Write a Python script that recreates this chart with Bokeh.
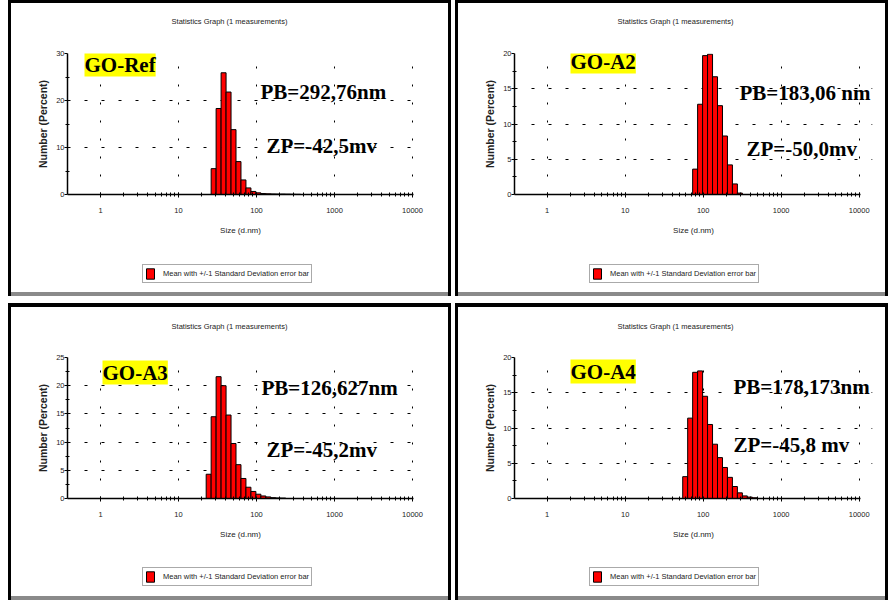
import math
from bokeh.plotting import figure
from bokeh.layouts import column, row
from bokeh.models import (Range1d, FixedTicker, BasicTickFormatter, Label, Legend,
                          LegendItem, ColumnDataSource)
from bokeh.embed import file_html
from bokeh.resources import INLINE

# ---------------- data ----------------
panel_names = ["GO-Ref", "GO-A2", "GO-A3", "GO-A4"]
pb_texts = ["PB=292,76nm", "PB=183,06 nm", "PB=126,627nm", "PB=178,173nm"]
zp_texts = ["ZP=-42,5mv", "ZP=-50,0mv", "ZP=-45,2mv", "ZP=-45,8 mv"]

ref_sizes = [28.21, 32.67, 37.84, 43.82, 50.75, 58.77, 68.06, 78.82, 91.28, 105.7,
             122.4, 141.8, 164.2, 190.1, 220.2, 255.0, 295.3, 342.0]
ref_pct = [5.5, 18.3, 25.9, 21.8, 13.8, 7.0, 3.1, 1.4, 0.65, 0.35,
           0.2, 0.15, 0.12, 0.1, 0.1, 0.08, 0.06, 0.04]

a2_sizes = [78.82, 91.28, 105.7, 122.4, 141.8, 164.2, 190.1, 220.2, 255.0, 295.3]
a2_pct = [3.6, 12.8, 19.7, 19.9, 16.7, 12.6, 8.3, 4.2, 1.5, 0.2]

a3_sizes = [24.36, 28.21, 32.67, 37.84, 43.82, 50.75, 58.77, 68.06, 78.82, 91.28,
            105.7, 122.4, 141.8, 164.2, 190.1, 220.2]
a3_pct = [4.3, 14.5, 21.6, 20.0, 14.8, 9.75, 6.0, 3.55, 2.0, 1.25,
          0.76, 0.45, 0.28, 0.15, 0.1, 0.08]

a4_sizes = [58.77, 68.06, 78.82, 91.28, 105.7, 122.4, 141.8, 164.2, 190.1, 220.2,
            255.0, 295.3, 342.0, 396.1, 458.7]
a4_pct = [3.1, 11.4, 17.9, 18.1, 14.5, 10.5, 7.7, 5.8, 4.4, 3.0,
          1.7, 0.8, 0.37, 0.2, 0.1]

y_max = [30, 20, 25, 20]
y_major = [[0, 10, 20, 30], [0, 5, 10, 15, 20], [0, 5, 10, 15, 20, 25], [0, 5, 10, 15, 20]]
y_minor = [[5, 15, 25], [2.5, 7.5, 12.5, 17.5], [2.5, 7.5, 12.5, 17.5, 22.5], [2.5, 7.5, 12.5, 17.5]]

x_major = [1, 10, 100, 1000, 10000]
x_minor = [m * d for d in [1, 10, 100, 1000] for m in range(2, 10)]
x_axis_end = 10400

title_text = "Statistics Graph (1 measurements)"
x_label = "Size (d.nm)"
y_label = "Number (Percent)"
legend_text = "Mean with +/-1 Standard Deviation error bar"

PX_PER_DECADE = 78.0
GRAY = "#8a8a8a"


def shadow(left=None, top=None, right=None, bottom=None, bottom_color="black"):
    """each side: (white_px, total_px) -> white band then coloured band"""
    whites, colours = [], []
    for side, spec in (("l", left), ("t", top), ("r", right), ("b", bottom)):
        if spec is None:
            continue
        wpx, tpx = spec
        col = bottom_color if side == "b" else "black"
        fmt = {"l": "inset {}px 0 0 0 {}", "t": "inset 0 {}px 0 0 {}",
               "r": "inset -{}px 0 0 0 {}", "b": "inset 0 -{}px 0 0 {}"}[side]
        if wpx:
            whites.append(fmt.format(wpx, "white"))
        colours.append(fmt.format(tpx, col))
    return ", ".join(whites + colours)


def blank_strip(w, h, css):
    q = figure(width=w, height=h, x_range=Range1d(0, 1), y_range=Range1d(0, 1),
               x_axis_location=None, y_axis_location=None, toolbar_location=None,
               output_backend="svg", min_border=0)
    q.grid.visible = False
    q.outline_line_color = None
    q.background_fill_alpha = 0
    q.border_fill_alpha = 0
    q.styles = {"box-shadow": css}
    return q


def make_title_strip(L):
    q = blank_strip(L["w"], L["th"], L["tshadow"])
    q.add_layout(Label(x=L["title"][0], y=L["title"][1], x_units="screen", y_units="screen",
                       text=title_text, text_align="center", text_baseline="middle",
                       text_font="Liberation Sans", text_font_size="7.5px",
                       text_color="#222222"))
    return q


def make_chart(sizes, pct, ymax, ymaj, ymin, name, pb, zp, L):
    frame_w = L["w"] - L["bl"] - L["br"]
    x_start = 10 ** (-L["one_px"] / PX_PER_DECADE)
    x_end = 10 ** (math.log10(x_start) + frame_w / PX_PER_DECADE)
    p = figure(width=L["w"], height=L["h"], x_axis_type="log",
               x_range=Range1d(x_start, x_end), y_range=Range1d(0, ymax),
               output_backend="svg", toolbar_location=None, title=None,
               min_border_left=L["bl"], min_border_right=L["br"],
               min_border_top=L["bt"], min_border_bottom=L["bb"])
    p.outline_line_color = None
    p.background_fill_alpha = 0
    p.border_fill_alpha = 0
    p.styles = {"box-shadow": L["shadow"]}

    half = math.sqrt(sizes[1] / sizes[0])
    src = ColumnDataSource(dict(left=[s / half for s in sizes],
                                right=[s * half for s in sizes],
                                top=pct))
    p.quad(left="left", right="right", bottom=0, top="top", source=src,
           fill_color="#FF0000", line_color="black", line_width=1)

    xa = p.xaxis[0]
    xa.ticker = FixedTicker(ticks=x_major, minor_ticks=x_minor)
    xa.formatter = BasicTickFormatter(use_scientific=False)
    xa.bounds = (x_start, x_axis_end)
    ya = p.yaxis[0]
    ya.ticker = FixedTicker(ticks=ymaj, minor_ticks=ymin)
    for ax in (xa, ya):
        ax.axis_line_color = "black"
        ax.axis_line_width = 1.5
        ax.major_tick_line_color = "black"
        ax.minor_tick_line_color = "black"
        ax.major_label_text_font = "Liberation Sans"
        ax.major_label_text_font_size = "7.5px"
        ax.major_label_text_color = "#222222"
        ax.axis_label_text_font = "Liberation Sans"
        ax.axis_label_text_font_style = "normal"
        ax.axis_label_text_color = "#222222"
    xa.major_tick_out = 3
    xa.major_tick_in = 2
    xa.minor_tick_out = 2
    xa.minor_tick_in = 2
    xa.major_label_standoff = 10
    xa.axis_label = x_label
    xa.axis_label_text_font_size = "8px"
    xa.axis_label_standoff = 10
    ya.major_tick_out = 3
    ya.major_tick_in = 0
    ya.minor_tick_out = 2
    ya.minor_tick_in = 2
    ya.major_label_standoff = 0
    ya.axis_label = y_label
    ya.axis_label_text_font_size = "10.5px"
    ya.axis_label_text_font_style = "bold"
    ya.axis_label_standoff = 4

    for g, dash in ((p.xgrid[0], "2 16"), (p.ygrid[0], "3 14")):
        g.grid_line_color = "black"
        g.grid_line_width = 1
        g.grid_line_dash = dash

    p.add_layout(Label(x=L["name"][0], y=L["name"][1], x_units="screen", y_units="screen",
                       text=name, text_font="Liberation Serif", text_font_style="bold",
                       text_font_size="21px", text_color="black", text_baseline="alphabetic",
                       background_fill_color="#FFFF00", background_fill_alpha=1))
    for txt, pos in ((pb, L["pb"]), (zp, L["zp"])):
        p.add_layout(Label(x=pos[0], y=pos[1], x_units="screen", y_units="screen",
                           text=txt, text_font="Liberation Serif", text_font_style="bold",
                           text_font_size="21px", text_color="black",
                           text_baseline="alphabetic"))
    return p, src


def make_legend_strip(L, src):
    q = blank_strip(L["w"], L["lh"], L["lshadow"])
    # legend swatch: same series as the chart, not drawn in this strip itself
    swatch = q.quad(left="left", right="right", bottom=0, top="top", source=src,
                    fill_color="#FF0000", line_color="black", line_width=1,
                    visible=False)
    legend = Legend(items=[LegendItem(label=legend_text, renderers=[swatch])],
                    location=L["leg"], padding=2, margin=0, spacing=0,
                    glyph_width=10, glyph_height=13, label_height=13,
                    label_standoff=8, label_text_font="Liberation Sans",
                    label_text_font_size="7.5px", label_text_color="#222222",
                    border_line_color="#555555", border_line_width=1,
                    background_fill_color="white", background_fill_alpha=1,
                    inactive_fill_alpha=0)
    q.add_layout(legend)
    return q


L1 = dict(w=455, th=35, h=215, lh=49, bl=67, br=42, bt=18, bb=56, one_px=33,
          title=(162, 14), name=(17, 130), pb=(193, 103), zp=(199, 49), leg=(75, 16),
          tshadow=shadow(left=(8, 11), top=(0, 3), right=(4, 7)),
          shadow=shadow(left=(8, 11), right=(4, 7)),
          lshadow=shadow(left=(8, 11), right=(4, 7), bottom=(3, 7), bottom_color=GRAY))
L2 = dict(w=433, th=35, h=215, lh=49, bl=59, br=16, bt=18, bb=56, one_px=32.7,
          title=(161, 14), name=(56, 133), pb=(225, 102), zp=(232, 46), leg=(75, 16),
          tshadow=shadow(left=(0, 3), top=(0, 3), right=(0, 3)),
          shadow=shadow(left=(0, 3), right=(0, 3)),
          lshadow=shadow(left=(0, 3), right=(0, 3), bottom=(3, 7), bottom_color=GRAY))
L3 = dict(w=455, th=41, h=215, lh=45, bl=67, br=42, bt=17, bb=57, one_px=33,
          title=(162, 14), name=(35, 126), pb=(194, 111), zp=(199, 49), leg=(75, 14),
          tshadow=shadow(left=(8, 11), top=(4, 8), right=(4, 7)),
          shadow=shadow(left=(8, 11), right=(4, 7)),
          lshadow=shadow(left=(8, 11), right=(4, 7), bottom=(0, 4), bottom_color=GRAY))
L4 = dict(w=433, th=41, h=215, lh=45, bl=59, br=16, bt=17, bb=57, one_px=32.7,
          title=(161, 14), name=(56, 127), pb=(219, 112), zp=(219, 54), leg=(75, 14),
          tshadow=shadow(left=(0, 3), top=(4, 8), right=(0, 3)),
          shadow=shadow(left=(0, 3), right=(0, 3)),
          lshadow=shadow(left=(0, 3), right=(0, 3), bottom=(0, 4), bottom_color=GRAY))

p1, s1 = make_chart(ref_sizes, ref_pct, y_max[0], y_major[0], y_minor[0],
                    panel_names[0], pb_texts[0], zp_texts[0], L1)
p2, s2 = make_chart(a2_sizes, a2_pct, y_max[1], y_major[1], y_minor[1],
                    panel_names[1], pb_texts[1], zp_texts[1], L2)
p3, s3 = make_chart(a3_sizes, a3_pct, y_max[2], y_major[2], y_minor[2],
                    panel_names[2], pb_texts[2], zp_texts[2], L3)
p4, s4 = make_chart(a4_sizes, a4_pct, y_max[3], y_major[3], y_minor[3],
                    panel_names[3], pb_texts[3], zp_texts[3], L4)


def panel(L, chart, src):
    return column(make_title_strip(L), chart, make_legend_strip(L, src))


layout = column(
    row(panel(L1, p1, s1), panel(L2, p2, s2)),
    row(panel(L3, p3, s3), panel(L4, p4, s4)),
)

open("out.html", "w").write(file_html(layout, INLINE))
